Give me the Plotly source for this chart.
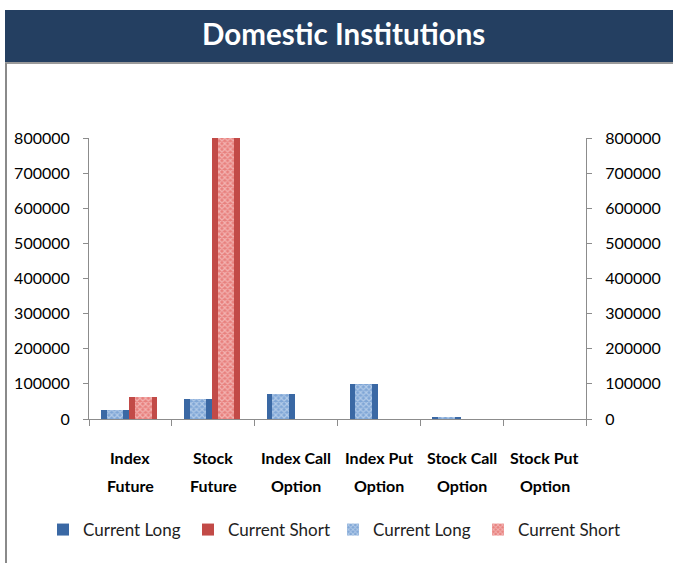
import plotly.graph_objects as go

categories = ["Index Future", "Stock Future", "Index Call Option",
              "Index Put Option", "Stock Call Option", "Stock Put Option"]
label_line1 = ["Index", "Stock", "Index Call", "Index Put", "Stock Call", "Stock Put"]
label_line2 = ["Future", "Future", "Option", "Option", "Option", "Option"]
current_long = [26000, 56000, 70000, 101000, 7000, 0]
current_short = [62000, 950000, 0, 0, 0, 0]
y_ticks = [0, 100000, 200000, 300000, 400000, 500000, 600000, 700000, 800000]
series_names = ["Current Long", "Current Short", "Current Long", "Current Short"]
title_text = "Domestic Institutions"

W, H = 673, 563
L, R, T, B = 89, 586, 138, 419
pw, ph = R - L, B - T

def px(x):
    return (x - L) / pw

def py(y):
    return (B - y) / ph

FONT = "Lato"
BLUE_OUT = "#3A68A4"
RED_OUT = "#C24A47"

fig = go.Figure()
# outer (solid) bars, primary axis
fig.add_trace(go.Bar(x=categories, y=current_long, name=series_names[0],
                     marker=dict(color=BLUE_OUT, line=dict(width=0)),
                     width=0.34, offset=-0.355, yaxis="y"))
fig.add_trace(go.Bar(x=categories, y=current_short, name=series_names[1],
                     marker=dict(color=RED_OUT, line=dict(width=0)),
                     width=0.34, offset=-0.015, yaxis="y"))
# inner (checkered) bars, secondary axis
fig.add_trace(go.Bar(x=categories, y=current_long, name=series_names[2],
                     marker=dict(color="#7FA6D6", line=dict(width=0),
                                 pattern=dict(shape="x", fgcolor="#E6EFFA", size=4, solidity=0.5)),
                     width=0.2, offset=-0.285, yaxis="y2"))
fig.add_trace(go.Bar(x=categories, y=current_short, name=series_names[3],
                     marker=dict(color="#E8807D", line=dict(width=0),
                                 pattern=dict(shape="x", fgcolor="#FCE6E6", size=4, solidity=0.5)),
                     width=0.2, offset=0.055, yaxis="y2"))

axis_common = dict(range=[0, 800000], tickvals=y_ticks, tickformat="d",
                   showgrid=False, zeroline=False, showline=True, linecolor="#8C8C8C",
                   linewidth=1, ticks="outside", ticklen=5, tickcolor="#8C8C8C",
                   tickfont=dict(family=FONT, size=16, color="#000000"), fixedrange=True,
                   automargin=False)

annotations = [dict(text="<b>" + title_text + "</b>", xref="paper", yref="paper",
                    x=px(343), y=py(33), xanchor="center", yanchor="middle", showarrow=False,
                    font=dict(family=FONT, size=29.5, color="white"))]
for cat, l1, l2 in zip(categories, label_line1, label_line2):
    annotations.append(dict(text="<b>" + l1 + "</b>", xref="x", yref="paper", x=cat, y=py(457),
                            xanchor="center", yanchor="middle", showarrow=False,
                            font=dict(family=FONT, size=16, color="#000000")))
    annotations.append(dict(text="<b>" + l2 + "</b>", xref="x", yref="paper", x=cat, y=py(485),
                            xanchor="center", yanchor="middle", showarrow=False,
                            font=dict(family=FONT, size=16, color="#000000")))

fig.update_layout(
    width=W, height=H,
    margin=dict(l=L, r=W - R, t=T, b=H - B, autoexpand=False),
    paper_bgcolor="white", plot_bgcolor="white",
    barmode="overlay", bargap=0,
    showlegend=True,
    font=dict(family=FONT),
    xaxis=dict(showline=True, linecolor="#8C8C8C", linewidth=1, ticks="outside",
               tickson="boundaries", ticklen=6, tickcolor="#8C8C8C", showgrid=False,
               showticklabels=False, fixedrange=True),
    yaxis=dict(**axis_common, side="left", ticklabelstandoff=10),
    yaxis2=dict(**axis_common, side="right", overlaying="y", ticklabelstandoff=10),
    legend=dict(orientation="h", x=px(43), xanchor="left", y=py(530), yanchor="middle",
                font=dict(family=FONT, size=17, color="#222222"),
                entrywidth=100, entrywidthmode="pixels", itemwidth=30,
                bgcolor="rgba(0,0,0,0)", traceorder="normal"),
    shapes=[
        dict(type="rect", xref="paper", yref="paper", x0=px(5), x1=px(680), y0=py(62), y1=py(10),
             fillcolor="#243F61", line=dict(width=0), layer="below"),
        dict(type="line", xref="paper", yref="paper", x0=px(5), x1=px(680), y0=py(63), y1=py(63),
             line=dict(color="#9A9A9A", width=2)),
        dict(type="line", xref="paper", yref="paper", x0=px(6), x1=px(6), y0=py(63), y1=py(570),
             line=dict(color="#8A8A8A", width=2)),
    ],
    annotations=annotations,
)

fig.write_html("out.html", config={"displayModeBar": False},
               post_script="document.body.style.margin='0';")
